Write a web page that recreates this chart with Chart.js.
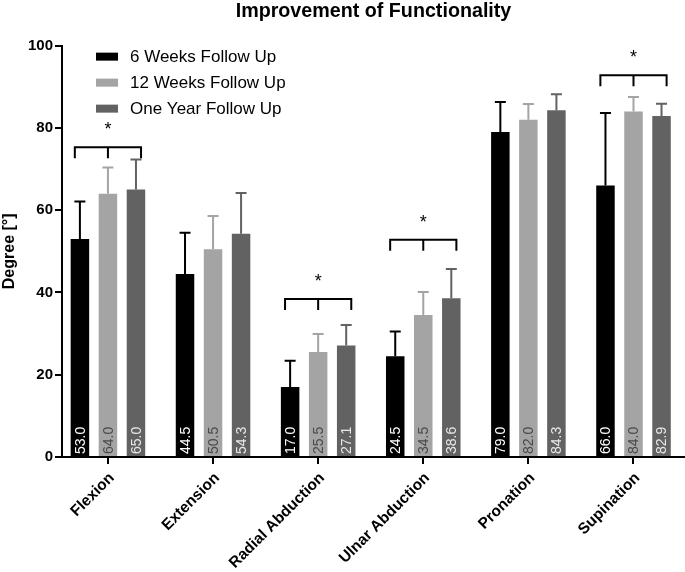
<!DOCTYPE html>
<html><head><meta charset="utf-8">
<script src="https://cdn.jsdelivr.net/npm/chart.js@4/dist/chart.umd.min.js"></script>
<style>html,body{margin:0;padding:0;background:#fff;overflow:hidden}</style>
</head><body>
<canvas id="c" width="685" height="572"></canvas>
<script>
const categories = ['Flexion', 'Extension', 'Radial Abduction', 'Ulnar Abduction', 'Pronation', 'Supination'];
const seriesNames = ['6 Weeks Follow Up', '12 Weeks Follow Up', 'One Year Follow Up'];
const weeks6 = [53.0, 44.5, 17.0, 24.5, 79.0, 66.0];
const weeks12 = [64.0, 50.5, 25.5, 34.5, 82.0, 84.0];
const year1 = [65.0, 54.3, 27.1, 38.6, 84.3, 82.9];
const sd6 = [9.1, 10.0, 6.4, 6.0, 7.3, 17.6];
const sd12 = [6.4, 8.1, 4.4, 5.6, 3.8, 3.5];
const sdYear = [7.3, 9.9, 5.0, 7.1, 3.9, 3.0];
const sigCategory = [0, 2, 3, 5];
const sigLevel = [75.3, 38.4, 52.8, 92.8];
const yTicks = [0, 20, 40, 60, 80, 100];

const colors = ['#000000', '#a4a4a4', '#626262'];
const labelColors = ['#ffffff', '#4a4a4a', '#e8e8e8'];
const seriesValues = [weeks6, weeks12, year1];
const seriesSD = [sd6, sd12, sdYear];

Chart.defaults.font.family = '"Liberation Sans", Arial, sans-serif';
Chart.defaults.color = '#000';

const overlay = {
  id: 'overlay',
  afterDatasetsDraw(chart) {
    const ctx = chart.ctx;
    const xs = chart.scales.x, ys = chart.scales.y;
    ctx.save();
    // error bars (upper only)
    chart.data.datasets.forEach((ds, di) => {
      const meta = chart.getDatasetMeta(di);
      meta.data.forEach((bar, i) => {
        const top = ys.getPixelForValue(seriesValues[di][i] + seriesSD[di][i]);
        ctx.strokeStyle = colors[di];
        ctx.lineWidth = 2;
        ctx.beginPath();
        ctx.moveTo(bar.x, bar.y);
        ctx.lineTo(bar.x, top);
        ctx.moveTo(bar.x - 5.5, top);
        ctx.lineTo(bar.x + 5.5, top);
        ctx.stroke();
      });
    });
    // value labels inside bars
    ctx.font = '14px "Liberation Sans", Arial, sans-serif';
    ctx.textAlign = 'left';
    ctx.textBaseline = 'middle';
    chart.data.datasets.forEach((ds, di) => {
      const meta = chart.getDatasetMeta(di);
      meta.data.forEach((bar, i) => {
        ctx.save();
        ctx.translate(bar.x, ys.bottom - 3);
        ctx.rotate(-Math.PI / 2);
        ctx.fillStyle = labelColors[di];
        ctx.fillText(seriesValues[di][i].toFixed(1), 0, 1);
        ctx.restore();
      });
    });
    // significance brackets
    ctx.strokeStyle = '#000';
    ctx.lineWidth = 2;
    ctx.fillStyle = '#000';
    ctx.font = '18px "Liberation Sans", Arial, sans-serif';
    ctx.textAlign = 'center';
    sigCategory.forEach((c, k) => {
      const cx = xs.getPixelForValue(c);
      const hw = xs.getPixelForValue(c + 0.315) - cx;
      const y = ys.getPixelForValue(sigLevel[k]);
      ctx.beginPath();
      ctx.moveTo(cx - hw, y + 11);
      ctx.lineTo(cx - hw, y);
      ctx.lineTo(cx + hw, y);
      ctx.lineTo(cx + hw, y + 11);
      ctx.moveTo(cx, y);
      ctx.lineTo(cx, y + 11);
      ctx.stroke();
      ctx.fillText('*', cx, y - 17);
    });
    // legend
    const ca = chart.chartArea;
    ctx.font = '17px "Liberation Sans", Arial, sans-serif';
    ctx.textAlign = 'left';
    ctx.textBaseline = 'middle';
    seriesNames.forEach((n, i) => {
      const ry = ca.top + 11 + i * 26;
      ctx.fillStyle = colors[i];
      ctx.fillRect(ca.left + 34, ry - 4, 22, 8);
      ctx.fillStyle = '#000';
      ctx.fillText(n, ca.left + 68, ry + 1);
    });
    ctx.restore();
  }
};

new Chart(document.getElementById('c'), {
  type: 'bar',
  data: {
    datasets: seriesNames.map((n, di) => ({
      label: n,
      data: seriesValues[di].map((v, i) => ({ x: i, y: v })),
      backgroundColor: colors[di],
      borderWidth: 0,
      barPercentage: 0.66,
      categoryPercentage: 0.8
    }))
  },
  options: {
    responsive: false,
    animation: false,
    devicePixelRatio: 1,
    layout: { padding: 0 },
    plugins: {
      legend: { display: false },
      tooltip: { enabled: false },
      title: {
        display: true,
        text: 'Improvement of Functionality',
        fullSize: false,
        color: '#000',
        font: { size: 19.7, weight: 'bold' },
        padding: { top: 0, bottom: 22 }
      }
    },
    scales: {
      x: {
        type: 'linear',
        offset: false,
        min: -0.437,
        max: 5.49,
        afterBuildTicks: ax => { ax.ticks = categories.map((c, i) => ({ value: i })); },
        afterFit: ax => { ax.height = 115; },
        ticks: {
          callback: v => categories[v],
          minRotation: 45, maxRotation: 45, autoSkip: false,
          color: '#000', font: { size: 15.5, weight: 'bold' }, padding: 5, labelOffset: 4
        },
        grid: { display: true, offset: false, drawOnChartArea: false, drawTicks: true, tickLength: 7, color: '#000', lineWidth: 2 },
        border: { display: true, color: '#000', width: 2 }
      },
      y: {
        min: 0, max: 100,
        afterBuildTicks: ax => { ax.ticks = yTicks.map(v => ({ value: v })); },
        afterFit: ax => { ax.width = 62; },
        ticks: { color: '#000', font: { size: 15, weight: 'bold' }, padding: 2 },
        grid: { drawOnChartArea: false, drawTicks: true, tickLength: 7, color: '#000', lineWidth: 2 },
        border: { display: true, color: '#000', width: 2 },
        title: { display: true, text: 'Degree [°]', color: '#000', font: { size: 16, weight: 'bold' }, padding: { top: 0, bottom: 0 } }
      }
    }
  },
  plugins: [overlay]
});
</script>
</body></html>
